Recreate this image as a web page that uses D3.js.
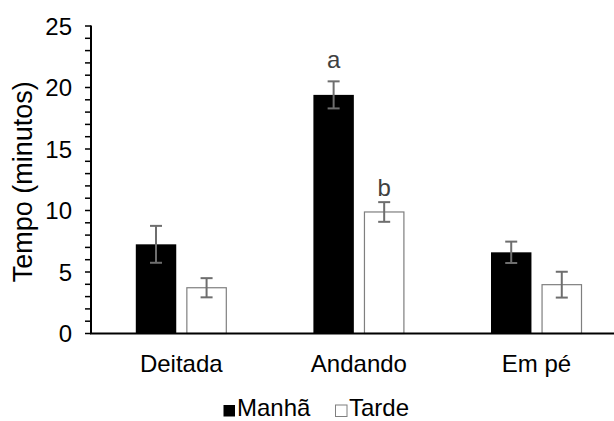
<!DOCTYPE html>
<html>
<head>
<meta charset="utf-8">
<script src="https://cdn.jsdelivr.net/npm/d3@7"></script>
<style>
  html, body { margin: 0; padding: 0; background: #fff; overflow: hidden; }
  svg { display: block; font-family: "Liberation Sans", Arial, sans-serif; }
</style>
</head>
<body>
<script>
const categories = ["Deitada", "Andando", "Em pé"];
const seriesNames = ["Manhã", "Tarde"];
const manha = [7.25, 19.4, 6.6];
const manhaErr = [1.5, 1.1, 0.87];
const tarde = [3.72, 9.88, 3.97];
const tardeErr = [0.78, 0.8, 1.05];
const sigManha = ["", "a", ""];
const sigTarde = ["", "b", ""];
const yTicks = [0, 5, 10, 15, 20, 25];
const yLabel = "Tempo (minutos)";

const W = 614, H = 421;
const svg = d3.select("body").append("svg").attr("width", W).attr("height", H);

const axisX = 91, y0px = 333.5, yTopPx = 26;
const y = d3.scaleLinear().domain([0, 25]).range([y0px, yTopPx]);
const x0 = d3.scaleBand().domain(categories).range([92.5, 92.5 + 3 * 177.6]);
const x1 = d3.scaleBand().domain(seriesNames).range([-45.5, 45.5]).paddingInner(0.2);

const data = categories.map((c, i) => ({
  cat: c,
  vals: [
    { s: "Manhã", v: manha[i], e: manhaErr[i], sig: sigManha[i] },
    { s: "Tarde", v: tarde[i], e: tardeErr[i], sig: sigTarde[i] }
  ]
}));

// Y axis minor ticks
const minor = d3.range(0, 26, 1);
svg.append("g").selectAll("line").data(minor).join("line")
  .attr("x1", axisX - 6).attr("x2", axisX)
  .attr("y1", d => y(d)).attr("y2", d => y(d))
  .attr("stroke", "#000").attr("stroke-width", 1.5);

// Y axis line
svg.append("line").attr("x1", axisX).attr("x2", axisX)
  .attr("y1", y(25) - 0.5).attr("y2", y(0))
  .attr("stroke", "#000").attr("stroke-width", 2);

// tick labels
svg.append("g").selectAll("text").data(yTicks).join("text")
  .attr("x", 72).attr("y", d => y(d)).attr("dy", "0.36em")
  .attr("text-anchor", "end").attr("font-size", 24).attr("fill", "#000")
  .text(d => d);

// y label
svg.append("text")
  .attr("transform", `translate(32,${(y(0) + y(25)) / 2 + 2}) rotate(-90)`)
  .attr("text-anchor", "middle").attr("font-size", 27).attr("fill", "#000")
  .text(yLabel);

// bars
const groups = svg.append("g").selectAll("g").data(data).join("g")
  .attr("transform", d => `translate(${x0(d.cat) + x0.bandwidth() / 2},0)`);

groups.selectAll("rect").data(d => d.vals).join("rect")
  .attr("x", d => x1(d.s) + (d.s === "Tarde" ? 0.5 : 0))
  .attr("width", d => x1.bandwidth() - (d.s === "Tarde" ? 1 : 0))
  .attr("y", d => y(d.v))
  .attr("height", d => y(0) - y(d.v))
  .attr("fill", d => d.s === "Manhã" ? "#000" : "#fff")
  .attr("stroke", d => d.s === "Manhã" ? "none" : "#7f7f7f")
  .attr("stroke-width", 1.2);

// error bars
const eb = groups.selectAll("g.eb").data(d => d.vals).join("g").attr("class", "eb");
const cx = d => x1(d.s) + x1.bandwidth() / 2;
eb.append("line")
  .attr("x1", cx).attr("x2", cx)
  .attr("y1", d => y(d.v + d.e)).attr("y2", d => y(d.v - d.e))
  .attr("stroke", "#6e6e6e").attr("stroke-width", 2);
eb.append("line")
  .attr("x1", d => cx(d) - 6).attr("x2", d => cx(d) + 6)
  .attr("y1", d => y(d.v + d.e)).attr("y2", d => y(d.v + d.e))
  .attr("stroke", "#6e6e6e").attr("stroke-width", 2);
eb.append("line")
  .attr("x1", d => cx(d) - 6).attr("x2", d => cx(d) + 6)
  .attr("y1", d => y(d.v - d.e)).attr("y2", d => y(d.v - d.e))
  .attr("stroke", "#6e6e6e").attr("stroke-width", 2);

// significance letters
groups.selectAll("text.sig").data(d => d.vals.filter(v => v.sig)).join("text")
  .attr("class", "sig")
  .attr("x", cx)
  .attr("y", d => y(d.v + d.e) - (d.s === "Manhã" ? 13.5 : 6.5))
  .attr("text-anchor", "middle").attr("font-size", 24).attr("fill", "#404040")
  .text(d => d.sig);

// X axis line
svg.append("line").attr("x1", axisX - 1).attr("x2", W)
  .attr("y1", y(0)).attr("y2", y(0))
  .attr("stroke", "#000").attr("stroke-width", 2);

// category labels
svg.append("g").selectAll("text").data(categories).join("text")
  .attr("x", d => x0(d) + x0.bandwidth() / 2).attr("y", 371.5)
  .attr("text-anchor", "middle").attr("font-size", 24).attr("fill", "#000")
  .text(d => d);

// legend
const legend = svg.append("g").attr("transform", "translate(223,0)");
const legItems = [
  { name: seriesNames[0], fill: "#000", stroke: "none", x: 0 },
  { name: seriesNames[1], fill: "#fff", stroke: "#7f7f7f", x: 112 }
];
const li = legend.selectAll("g").data(legItems).join("g")
  .attr("transform", d => `translate(${d.x},0)`);
li.append("rect").attr("x", 0.5).attr("y", 405).attr("width", 11.5).attr("height", 11.5)
  .attr("fill", d => d.fill).attr("stroke", d => d.stroke).attr("stroke-width", 1);
li.append("text").attr("x", 14).attr("y", 416).attr("font-size", 24).attr("fill", "#000")
  .text(d => d.name);
</script>
</body>
</html>
